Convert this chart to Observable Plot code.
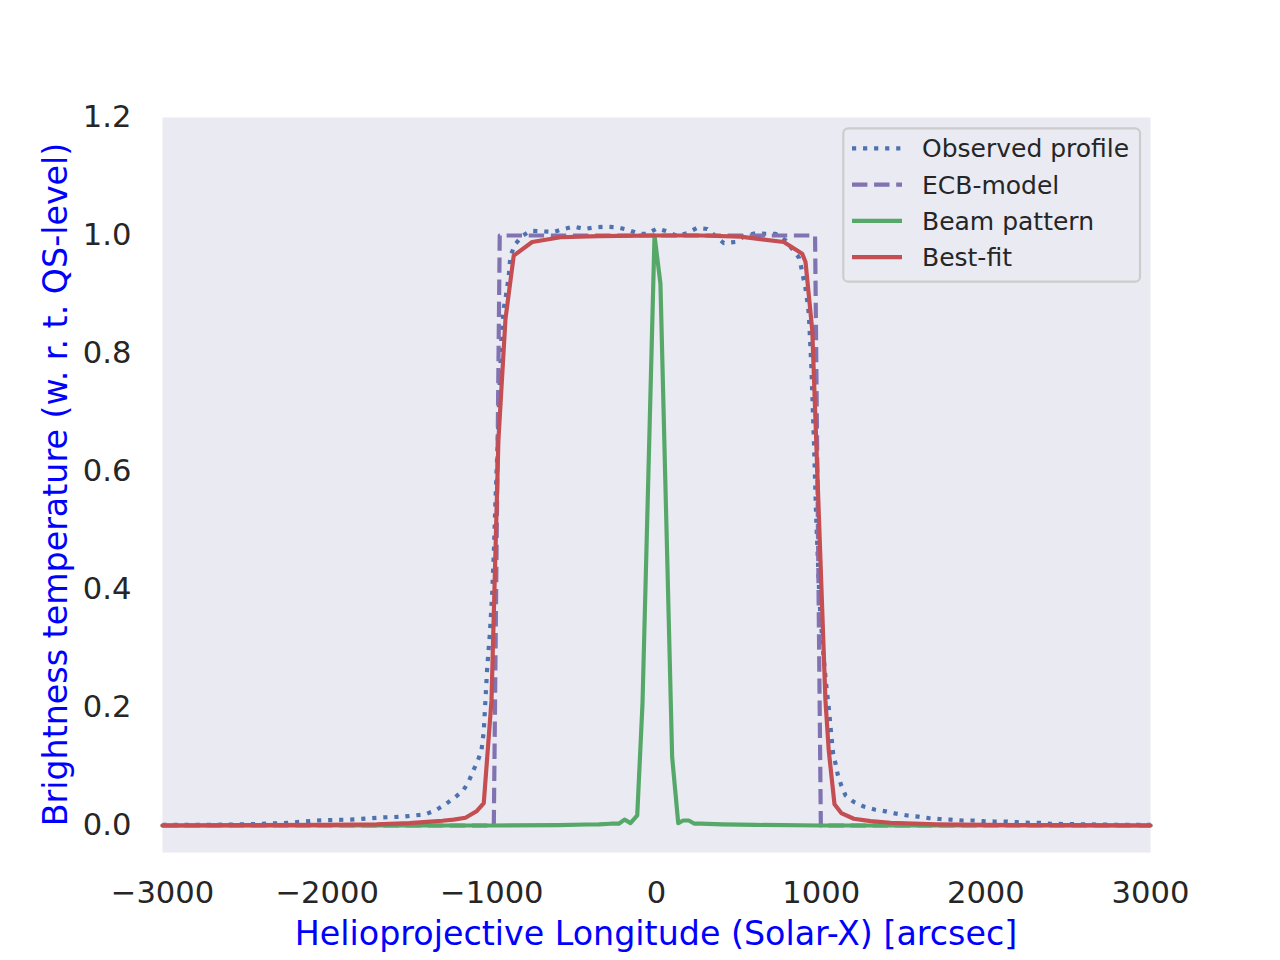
<!DOCTYPE html>
<html>
<head>
<meta charset="utf-8">
<script src="https://cdn.jsdelivr.net/npm/d3@7"></script>
<script src="https://cdn.jsdelivr.net/npm/@observablehq/plot@0.6"></script>
<style>
  html, body { margin: 0; padding: 0; background: #ffffff; }
  #chart { width: 1280px; height: 960px; }
</style>
</head>
<body>
<div id="chart"></div>
<script>
// ---- Data ----
const xTicks = [-3000, -2000, -1000, 0, 1000, 2000, 3000];
const yTicks = [0.0, 0.2, 0.4, 0.6, 0.8, 1.0, 1.2];

const seriesNames = ["Observed profile", "ECB-model", "Beam pattern", "Best-fit"];
const xLabel = "Helioprojective Longitude (Solar-X) [arcsec]";
const yLabel = "Brightness temperature (w. r. t. QS-level)";

const obsX = [-3000, -2700, -2500, -2265, -2061, -1858, -1666, -1536, -1403, -1340, -1281, -1227, -1174, -1140, -1113, -1085, -1063, -1049, -1028, -1012, -998, -988, -978, -964, -952, -941, -927, -917, -907, -897, -887, -856, -816, -765, -694, -624, -563, -502, -437, -370, -305, -239, -178, -107, -56, 4, 65, 126, 186, 247, 308, 358, 409, 480, 540, 601, 662, 723, 783, 824, 864, 879, 891, 905, 915, 925, 940, 955, 970, 990, 1010, 1030, 1046, 1061, 1073, 1087, 1101, 1122, 1148, 1198, 1259, 1324, 1391, 1456, 1523, 1589, 1654, 1720, 1785, 1857, 1923, 1988, 2055, 2119, 2190, 2261, 2328, 2393, 2600, 2800, 3000];
const obsY = [0.001, 0.001, 0.002, 0.004, 0.0085, 0.010, 0.0136, 0.015, 0.019, 0.026, 0.036, 0.047, 0.059, 0.075, 0.093, 0.110, 0.127, 0.16, 0.268, 0.325, 0.393, 0.461, 0.55, 0.653, 0.749, 0.834, 0.878, 0.893, 0.912, 0.932, 0.966, 0.986, 0.999, 1.008, 1.007, 1.006, 1.011, 1.015, 1.011, 1.014, 1.015, 1.014, 1.010, 1.003, 1.003, 1.012, 1.007, 0.999, 1.004, 1.013, 1.011, 0.999, 0.987, 0.989, 1.000, 1.004, 1.003, 1.003, 0.992, 0.977, 0.963, 0.946, 0.929, 0.910, 0.890, 0.867, 0.78, 0.66, 0.52, 0.38, 0.30, 0.24, 0.20, 0.155, 0.121, 0.105, 0.086, 0.068, 0.051, 0.040, 0.032, 0.027, 0.024, 0.020, 0.017, 0.015, 0.0124, 0.011, 0.010, 0.0085, 0.0085, 0.0073, 0.0068, 0.0068, 0.0056, 0.0045, 0.0045, 0.0028, 0.002, 0.001, 0.001];

const ecbX = [-3000, -988, -952, 963, 998, 3000];
const ecbY = [0, 0, 1.0, 1.0, 0, 0];

const beamX = [-3000, -1000, -600, -421, -350, -279, -229, -194, -158, -117, -85, -12, 24, 95, 132, 162, 196, 231, 267, 400, 600, 1000, 3000];
const beamY = [0, 0, 0.0005, 0.0017, 0.002, 0.003, 0.003, 0.010, 0.004, 0.017, 0.207, 1.0, 0.918, 0.116, 0.004, 0.0085, 0.0085, 0.003, 0.003, 0.002, 0.001, 0, 0];

const fitX = [-3000, -2500, -2000, -1700, -1500, -1393, -1300, -1231, -1160, -1093, -1049, -1002, -960, -917, -867, -755, -583, -350, 0, 267, 510, 773, 885, 905, 946, 1026, 1046, 1081, 1122, 1198, 1300, 1421, 1700, 2000, 2500, 3000];
const fitY = [0, 0.0005, 0.001, 0.002, 0.004, 0.006, 0.008, 0.010, 0.013, 0.024, 0.038, 0.212, 0.653, 0.859, 0.966, 0.989, 0.997, 0.999, 1.000, 1.000, 0.998, 0.989, 0.969, 0.955, 0.839, 0.212, 0.127, 0.036, 0.021, 0.0114, 0.0073, 0.0046, 0.002, 0.001, 0.0005, 0];

const colors = ["#4C72B0", "#8172B2", "#55A868", "#C44E52"];
const dashes = ["4.17 6.88", "15.4 6.7", null, null];

// ---- Build tables ----
const toRows = (xs, ys) => xs.map((x, i) => ({x, y: ys[i]}));
const obs = toRows(obsX, obsY);
const ecb = toRows(ecbX, ecbY);
const beam = toRows(beamX, beamY);
const fit = toRows(fitX, fitY);

const LW = 4.17;
const fmtX = d => (d < 0 ? "\u2212" + Math.abs(d) : String(d));

const chart = Plot.plot({
  width: 1280,
  height: 960,
  marginLeft: 162,
  marginRight: 130,
  marginTop: 117,
  marginBottom: 108,
  x: {domain: [-3000, 3000]},
  y: {domain: [-0.0458, 1.2]},
  style: {fontFamily: "DejaVu Sans", background: "#ffffff", overflow: "visible"},
  marks: [
    Plot.frame({fill: "#EAEAF2", stroke: "none"}),
    Plot.axisX({ticks: xTicks, tickSize: 0, tickPadding: 29, fontSize: 30.6, tickFormat: fmtX, color: "#262626", label: null}),
    Plot.axisY({ticks: yTicks, tickSize: 0, tickPadding: 31, fontSize: 30.6, tickFormat: d3.format(".1f"), color: "#262626", label: null}),
    Plot.line(obs, {x: "x", y: "y", stroke: colors[0], strokeWidth: LW, strokeDasharray: dashes[0], strokeLinecap: "butt", strokeLinejoin: "round"}),
    Plot.line(ecb, {x: "x", y: "y", stroke: colors[1], strokeWidth: LW, strokeDasharray: dashes[1], strokeLinecap: "butt", strokeLinejoin: "round"}),
    Plot.line(beam, {x: "x", y: "y", stroke: colors[2], strokeWidth: LW, strokeLinejoin: "round"}),
    Plot.line(fit, {x: "x", y: "y", stroke: colors[3], strokeWidth: LW, strokeLinejoin: "round"})
  ]
});

document.getElementById("chart").appendChild(chart);

const svg = d3.select(chart);

// ---- Axis labels ----
svg.append("text")
  .attr("x", 656).attr("y", 945)
  .attr("text-anchor", "middle")
  .attr("font-family", "DejaVu Sans").attr("font-size", 33.3)
  .attr("fill", "#0000FF")
  .text(xLabel);
svg.append("text")
  .attr("transform", "translate(67,484.5) rotate(-90)")
  .attr("x", 0).attr("y", 0)
  .attr("text-anchor", "middle")
  .attr("font-family", "DejaVu Sans").attr("font-size", 33.3)
  .attr("fill", "#0000FF")
  .text(yLabel);

// ---- Legend (upper right, matplotlib style) ----
const lg = svg.append("g").attr("font-family", "DejaVu Sans");
lg.append("rect")
  .attr("x", 843.3).attr("y", 128.3)
  .attr("width", 296.7).attr("height", 153.4)
  .attr("rx", 5).attr("ry", 5)
  .attr("fill", "#EAEAF2").attr("fill-opacity", 0.8)
  .attr("stroke", "#CCCCCC").attr("stroke-width", 2.2);
const rowY = [148.3, 184.6, 220.9, 257.2];
seriesNames.forEach((name, i) => {
  const l = lg.append("line")
    .attr("x1", 852).attr("x2", 902)
    .attr("y1", rowY[i]).attr("y2", rowY[i])
    .attr("stroke", colors[i]).attr("stroke-width", LW);
  if (dashes[i]) l.attr("stroke-dasharray", dashes[i]).attr("stroke-linecap", "butt");
  lg.append("text")
    .attr("x", 922).attr("y", rowY[i] + 9)
    .attr("text-anchor", "start")
    .attr("font-size", 25).attr("fill", "#262626")
    .text(name);
});
</script>
</body>
</html>
